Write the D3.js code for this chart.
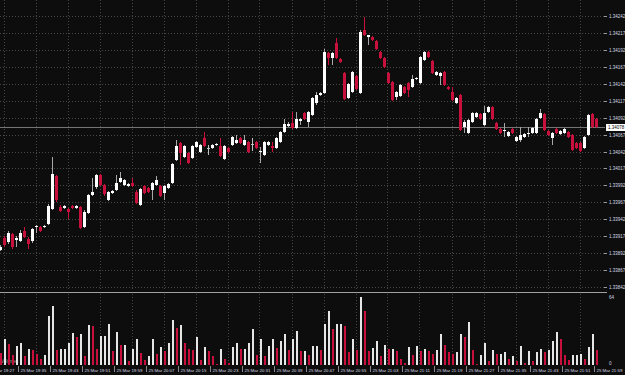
<!DOCTYPE html>
<html><head><meta charset="utf-8">
<script src="https://cdn.jsdelivr.net/npm/d3@7"></script>
<style>html,body{margin:0;padding:0;background:#0d0d0d;}svg{display:block;}</style>
</head><body>
<svg id="c" width="625" height="375"></svg>
<script>
// 1-minute bars, 25 Mar 19:30 .. 21:59
const firstBarTime = "19:30";
const opens = [
1.33896,1.33914,1.33908,1.33920,1.33911,1.33910,1.33925,1.33913,1.33910,1.33931,
1.33931,1.33931,1.33935,1.33957,1.34006,1.33960,1.33959,1.33957,1.33962,1.33959,
1.33960,1.33931,1.33951,1.33978,1.33990,1.34007,1.33993,1.33970,1.33981,1.33985,
1.33997,1.33993,1.33991,1.33996,1.33982,1.33963,1.33991,1.33988,1.33985,1.33993,
1.33991,1.33981,1.33988,1.33996,1.34029,1.34055,1.34034,1.34040,1.34032,1.34049,
1.34041,1.34062,1.34047,1.34047,1.34052,1.34050,1.34031,1.34047,1.34052,1.34055,
1.34062,1.34052,1.34056,1.34053,1.34056,1.34041,1.34037,1.34052,1.34050,1.34047,
1.34056,1.34071,1.34080,1.34084,1.34077,1.34087,1.34099,1.34086,1.34096,1.34114,
1.34125,1.34128,1.34187,1.34180,1.34202,1.34179,1.34158,1.34121,1.34130,1.34153,
1.34128,1.34221,1.34211,1.34211,1.34205,1.34189,1.34180,1.34158,1.34145,1.34122,
1.34124,1.34137,1.34143,1.34137,1.34149,1.34143,1.34177,1.34189,1.34176,1.34155,
1.34153,1.34159,1.34137,1.34130,1.34114,1.34125,1.34078,1.34069,1.34086,1.34093,
1.34097,1.34081,1.34100,1.34108,1.34084,1.34075,1.34072,1.34065,1.34075,1.34057,
1.34059,1.34063,1.34068,1.34069,1.34069,1.34091,1.34097,1.34072,1.34062,1.34075,
1.34068,1.34069,1.34071,1.34066,1.34055,1.34055,1.34047,1.34066,1.34097,1.34090];
const highs = [
1.33904,1.33918,1.33925,1.33922,1.33918,1.33926,1.33931,1.33916,1.33929,1.33934,
1.33932,1.33934,1.33965,1.34034,1.34007,1.33963,1.33963,1.33959,1.33963,1.33963,
1.33962,1.33956,1.33979,1.34003,1.34009,1.34009,1.33994,1.33984,1.33985,1.34007,
1.34012,1.34001,1.33996,1.34003,1.33985,1.33988,1.33993,1.33990,1.33997,1.34006,
1.33993,1.33993,1.33996,1.34025,1.34059,1.34056,1.34052,1.34041,1.34052,1.34057,
1.34053,1.34071,1.34052,1.34053,1.34055,1.34062,1.34052,1.34049,1.34065,1.34066,
1.34063,1.34066,1.34057,1.34062,1.34057,1.34049,1.34057,1.34057,1.34056,1.34063,
1.34072,1.34090,1.34086,1.34100,1.34100,1.34091,1.34100,1.34102,1.34122,1.34130,
1.34130,1.34193,1.34189,1.34189,1.34210,1.34180,1.34159,1.34143,1.34161,1.34155,
1.34221,1.34241,1.34214,1.34212,1.34207,1.34190,1.34181,1.34159,1.34146,1.34131,
1.34142,1.34139,1.34145,1.34155,1.34152,1.34183,1.34190,1.34190,1.34177,1.34161,
1.34159,1.34161,1.34139,1.34137,1.34122,1.34127,1.34088,1.34090,1.34100,1.34100,
1.34099,1.34109,1.34109,1.34109,1.34086,1.34077,1.34084,1.34072,1.34077,1.34065,
1.34078,1.34069,1.34078,1.34078,1.34091,1.34105,1.34099,1.34074,1.34071,1.34077,
1.34074,1.34077,1.34072,1.34068,1.34056,1.34056,1.34065,1.34097,1.34099,1.34091];
const lows = [
1.33895,1.33901,1.33905,1.33898,1.33901,1.33908,1.33914,1.33898,1.33907,1.33922,
1.33923,1.33929,1.33934,1.33956,1.33967,1.33953,1.33957,1.33942,1.33957,1.33957,
1.33928,1.33929,1.33950,1.33976,1.33987,1.33991,1.33976,1.33969,1.33979,1.33984,
1.33996,1.33991,1.33990,1.33990,1.33965,1.33962,1.33979,1.33981,1.33970,1.33991,
1.33975,1.33970,1.33987,1.33994,1.34028,1.34022,1.34032,1.34024,1.34031,1.34047,
1.34040,1.34049,1.34037,1.34046,1.34050,1.34034,1.34029,1.34040,1.34050,1.34053,
1.34053,1.34050,1.34040,1.34043,1.34046,1.34025,1.34035,1.34050,1.34041,1.34046,
1.34055,1.34069,1.34078,1.34075,1.34075,1.34081,1.34088,1.34078,1.34094,1.34111,
1.34124,1.34127,1.34170,1.34170,1.34179,1.34173,1.34118,1.34119,1.34128,1.34133,
1.34127,1.34212,1.34199,1.34205,1.34192,1.34179,1.34165,1.34142,1.34117,1.34118,
1.34122,1.34127,1.34122,1.34136,1.34148,1.34142,1.34176,1.34180,1.34156,1.34153,
1.34140,1.34139,1.34133,1.34117,1.34112,1.34072,1.34069,1.34068,1.34084,1.34091,
1.34088,1.34080,1.34099,1.34088,1.34074,1.34068,1.34063,1.34063,1.34068,1.34056,
1.34056,1.34062,1.34063,1.34068,1.34068,1.34090,1.34072,1.34065,1.34052,1.34068,
1.34066,1.34068,1.34062,1.34043,1.34046,1.34041,1.34046,1.34065,1.34077,1.34077];
const closes = [
1.33901,1.33904,1.33922,1.33901,1.33914,1.33922,1.33916,1.33905,1.33928,1.33932,
1.33925,1.33932,1.33962,1.34009,1.33970,1.33954,1.33962,1.33953,1.33959,1.33962,
1.33929,1.33953,1.33978,1.33982,1.34007,1.33993,1.33979,1.33982,1.33984,1.33996,
1.34003,1.34000,1.33994,1.33991,1.33966,1.33987,1.33981,1.33982,1.33996,1.34000,
1.33976,1.33991,1.33994,1.34024,1.34050,1.34040,1.34050,1.34025,1.34050,1.34056,
1.34052,1.34050,1.34047,1.34052,1.34053,1.34035,1.34050,1.34041,1.34063,1.34059,
1.34055,1.34059,1.34041,1.34053,1.34047,1.34043,1.34056,1.34056,1.34047,1.34062,
1.34071,1.34083,1.34083,1.34077,1.34090,1.34090,1.34090,1.34100,1.34121,1.34125,
1.34128,1.34189,1.34180,1.34187,1.34180,1.34174,1.34119,1.34142,1.34159,1.34134,
1.34218,1.34214,1.34214,1.34207,1.34193,1.34180,1.34167,1.34143,1.34118,1.34130,
1.34140,1.34128,1.34133,1.34149,1.34150,1.34181,1.34189,1.34181,1.34158,1.34159,
1.34158,1.34140,1.34134,1.34118,1.34121,1.34074,1.34086,1.34088,1.34099,1.34099,
1.34090,1.34099,1.34108,1.34090,1.34075,1.34069,1.34074,1.34071,1.34069,1.34063,
1.34066,1.34068,1.34069,1.34077,1.34090,1.34099,1.34074,1.34066,1.34069,1.34069,
1.34072,1.34075,1.34063,1.34044,1.34047,1.34043,1.34063,1.34096,1.34078,1.34078];
const volumes = [
11,24,20,9,18,21,8,15,14,10,
6,9,46,55,14,15,15,21,30,26,
29,8,37,36,15,27,27,38,13,31,
19,19,4,15,24,11,5,8,24,10,
17,13,21,42,35,37,21,15,14,26,
5,17,13,8,1,15,6,2,17,21,
15,15,21,34,9,24,8,18,24,16,
22,29,14,24,32,13,13,9,18,18,
14,38,50,34,38,38,36,12,24,14,
64,50,13,16,22,8,19,15,15,13,
6,2,17,9,18,13,15,13,10,14,
29,19,12,10,12,29,26,40,14,1,
9,21,4,14,10,10,12,6,8,4,
18,2,13,4,12,15,12,14,22,31,
24,9,5,9,9,10,6,17,29,14];
const priceTicks = [1.34242,1.34217,1.34192,1.34167,1.34142,1.34117,1.34092,1.34067,1.34042,
  1.34017,1.33992,1.33967,1.33942,1.33917,1.33892,1.33867,1.33842];
const timeLabels = ["25 Mar 19:27","25 Mar 19:35","25 Mar 19:43","25 Mar 19:51","25 Mar 19:59",
  "25 Mar 20:07","25 Mar 20:15","25 Mar 20:23","25 Mar 20:31","25 Mar 20:39","25 Mar 20:47",
  "25 Mar 20:55","25 Mar 21:03","25 Mar 21:11","25 Mar 21:19","25 Mar 21:27","25 Mar 21:35",
  "25 Mar 21:43","25 Mar 21:51","25 Mar 21:59"];

const W = 625, H = 375;
const BG = "#0d0d0d", BULL = "#ffffff", BULLWICK = "#a8a8a8", BEAR = "#c8103c";
const FONT = "'Liberation Sans', Arial, sans-serif";
const svg = d3.select("#c");
svg.append("rect").attr("width", W).attr("height", H).attr("fill", BG);

const n = closes.length;
const x = d3.scaleLinear().domain([0, n - 1]).range([0.5, 0.5 + 4 * (n - 1)]);
const y = d3.scaleLinear().domain([d3.min(priceTicks), d3.max(priceTicks)]).range([287, 16]);
const vMax = d3.max(volumes);
const yv = d3.scaleLinear().domain([0, vMax]).range([365, 296.5]);
const toMin = s => { const [h, m] = s.split(":").map(Number); return h * 60 + m; };
const t0 = toMin(firstBarTime);
const labelIdx = timeLabels.map(s => toMin(s.split(" ")[2]) - t0);

const defs = svg.append("defs");
defs.append("clipPath").attr("id", "cp").append("rect").attr("x", 0).attr("y", 0).attr("width", 605).attr("height", 291);
defs.append("clipPath").attr("id", "cv").append("rect").attr("x", 0).attr("y", 293).attr("width", 605).attr("height", 73);

const GRID = "#474747";
// horizontal grid + price axis labels
const gH = svg.append("g");
priceTicks.forEach(t => {
  const py = Math.round(y(t)) + 0.5;
  gH.append("line").attr("x1", 0).attr("x2", 604).attr("y1", py).attr("y2", py)
    .attr("stroke", GRID).attr("stroke-dasharray", "1,2");
  gH.append("line").attr("x1", 604).attr("x2", 607).attr("y1", py).attr("y2", py).attr("stroke", "#9a9a9a");
  gH.append("text").attr("x", 609).attr("y", py + 1.6).text(t.toFixed(5))
    .attr("font-family", FONT).attr("font-size", 4.5).attr("fill", "#d6dbe6");
});
// vertical grid
labelIdx.forEach(i => {
  const gx = Math.round(x(i - 4) - 1) + 0.5;
  if (gx < 0 || gx > 604) return;
  svg.append("line").attr("x1", gx).attr("x2", gx).attr("y1", 0).attr("y2", 290)
    .attr("stroke", GRID).attr("stroke-dasharray", "1,2");
  svg.append("line").attr("x1", gx).attr("x2", gx).attr("y1", 294).attr("y2", 365)
    .attr("stroke", GRID).attr("stroke-dasharray", "1,2");
});

// bid line
const last = closes[n - 1];
const by = Math.round(y(last)) + 0.5;
svg.append("line").attr("x1", 0).attr("x2", 605).attr("y1", by).attr("y2", by).attr("stroke", "#747474");

// candles
const gc = svg.append("g").attr("clip-path", "url(#cp)");
d3.range(n).forEach(i => {
  const o = opens[i], c = closes[i], h = highs[i], l = lows[i];
  const up = c > o, flat = c === o;
  const col = flat ? "#c0c0c0" : (up ? BULL : BEAR);
  const wcol = flat ? "#c0c0c0" : (up ? BULLWICK : BEAR);
  const cx = x(i);
  gc.append("rect").attr("x", cx - 0.5).attr("width", 1)
    .attr("y", Math.round(y(h))).attr("height", Math.max(1, Math.round(y(l)) - Math.round(y(h))))
    .attr("fill", wcol);
  const top = Math.round(y(Math.max(o, c))), bot = Math.round(y(Math.min(o, c)));
  gc.append("rect").attr("x", cx - 1.5).attr("width", 3)
    .attr("y", top).attr("height", Math.max(1, bot - top)).attr("fill", col);
});

// panel separator
svg.append("line").attr("x1", 0).attr("x2", 607).attr("y1", 292.5).attr("y2", 292.5).attr("stroke", "#a0a0a0");

// volume panel
svg.append("text").attr("x", 1).attr("y", 363).text("Volumes")
  .attr("font-family", FONT).attr("font-size", 4.5).attr("fill", "#9a9a9a");
const gv = svg.append("g").attr("clip-path", "url(#cv)");
d3.range(n).forEach(i => {
  const v = volumes[i];
  const up = i > 0 && v >= volumes[i - 1];
  const top = Math.round(yv(v));
  gv.append("rect").attr("x", x(i) - 0.5).attr("width", 2)
    .attr("y", top).attr("height", Math.max(1, 365 - top))
    .attr("fill", up ? "#e6e6e6" : BEAR);
});
svg.append("text").attr("x", 609).attr("y", yv(vMax) + 2).text(vMax)
  .attr("font-family", FONT).attr("font-size", 4.5).attr("fill", "#d6dbe6");
svg.append("text").attr("x", 609).attr("y", 365).text("0")
  .attr("font-family", FONT).attr("font-size", 4.5).attr("fill", "#d6dbe6");

// time axis labels
timeLabels.forEach((s, k) => {
  const tx = x(labelIdx[k]);
  svg.append("line").attr("x1", tx - 2).attr("x2", tx - 2).attr("y1", 366).attr("y2", 372).attr("stroke", "#8a8a8a");
  svg.append("text").attr("x", tx).attr("y", 372).text(s)
    .attr("font-family", FONT).attr("font-size", 4.4).attr("fill", "#d6dbe6");
});

// current price box
svg.append("rect").attr("x", 606).attr("y", by - 3.5).attr("width", 19).attr("height", 7).attr("fill", "#ffffff");
svg.append("text").attr("x", 608).attr("y", by + 1.6).text(last.toFixed(5))
  .attr("font-family", FONT).attr("font-size", 4.5).attr("fill", "#000000");
</script>
</body></html>
